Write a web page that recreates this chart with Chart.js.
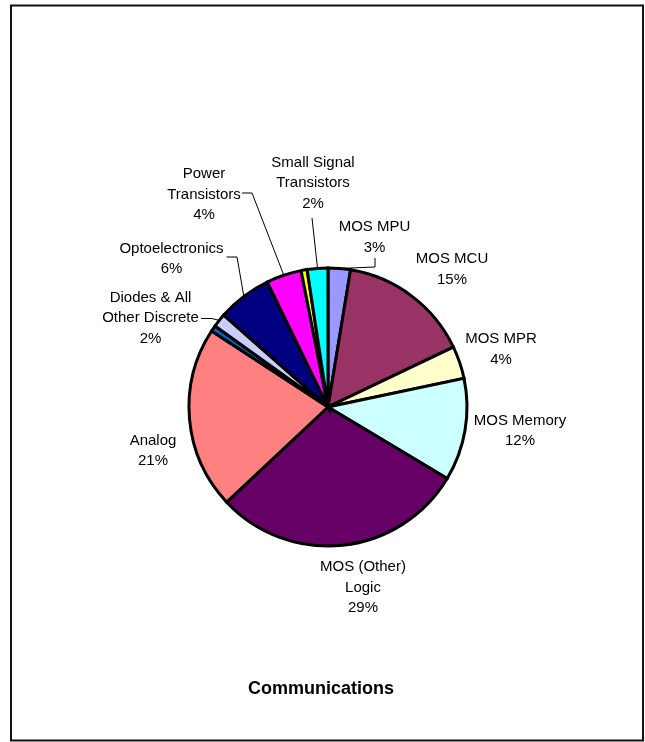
<!DOCTYPE html>
<html lang="en">
  <head>
    <meta charset="UTF-8" />
    <title>Communications</title>
    <script src="https://cdn.jsdelivr.net/npm/chart.js"></script>
    <style>
      html,
      body {
        margin: 0;
        padding: 0;
        background: #ffffff;
      }
      #pie-wrap {
        width: 645px;
        height: 742px;
      }
    </style>
  </head>
  <body>
    <div id="pie-wrap">
      <canvas id="pie" width="645" height="742"></canvas>
    </div>

    <script>
      // Semiconductor shares, clockwise from 12 o'clock
      const categories = [
        'MOS MPU',
        'MOS MCU',
        'MOS MPR',
        'MOS Memory',
        'MOS (Other) Logic',
        'Analog',
        '',
        'Diodes & All Other Discrete',
        'Optoelectronics',
        'Power Transistors',
        '',
        'Small Signal Transistors',
      ];
      const shares = [2.6, 15.3, 3.8, 11.9, 29.4, 21.2, 0.7, 1.6, 6.3, 4.1, 0.7, 2.4];
      const labelLines = [
        ['MOS MPU'],
        ['MOS MCU'],
        ['MOS MPR'],
        ['MOS Memory'],
        ['MOS (Other)', 'Logic'],
        ['Analog'],
        null,
        ['Diodes & All', 'Other Discrete'],
        ['Optoelectronics'],
        ['Power', 'Transistors'],
        null,
        ['Small Signal', 'Transistors'],
      ];
      const chartTitle = 'Communications';

      const sliceColors = [
        '#9999FF',
        '#993366',
        '#FFFFCC',
        '#CCFFFF',
        '#660066',
        '#FF8080',
        '#0066CC',
        '#CCCCFF',
        '#000080',
        '#FF00FF',
        '#FFFF00',
        '#00FFFF',
      ];

      // label block centre and leader points, as offsets from the pie centre
      const labelPlacement = [
        { dx: 46.5, dy: -169.5, leader: [[47, -149], [47, -140]] },
        { dx: 124, dy: -137.5 },
        { dx: 173, dy: -57.5 },
        { dx: 192, dy: 23.7 },
        { dx: 35, dy: 180.5 },
        { dx: -175, dy: 44 },
        null,
        { dx: -177.5, dy: -88.7, leader: [[-127, -88.5], [-116, -88.5]] },
        { dx: -156.5, dy: -148, leader: [[-101.5, -150], [-91, -150]] },
        { dx: -124, dy: -212.5, leader: [[-86, -214], [-76, -214]] },
        null,
        { dx: -15, dy: -223.7, leader: [[-16, -189]] },
      ];

      const FONT = '"Liberation Sans", Arial, sans-serif';

      const frameAndLabels = {
        id: 'frameAndLabels',
        beforeDraw(chart) {
          const ctx = chart.ctx;
          ctx.save();
          ctx.fillStyle = '#ffffff';
          ctx.fillRect(0, 0, chart.width, chart.height);
          ctx.strokeStyle = '#111111';
          ctx.lineWidth = 2;
          ctx.strokeRect(11, 5.5, 632, 735);
          ctx.restore();
        },
        afterDraw(chart) {
          const ctx = chart.ctx;
          const arcs = chart.getDatasetMeta(0).data;
          const total = shares.reduce((a, b) => a + b, 0);
          ctx.save();
          ctx.fillStyle = '#000000';
          ctx.strokeStyle = '#000000';
          ctx.lineWidth = 1;
          ctx.font = '15px ' + FONT;
          ctx.textAlign = 'center';
          ctx.textBaseline = 'middle';

          arcs.forEach((arc, i) => {
            const place = labelPlacement[i];
            if (!place || !labelLines[i]) return;
            const { x, y, startAngle, endAngle, outerRadius } = arc.getProps(
              ['x', 'y', 'startAngle', 'endAngle', 'outerRadius'],
              true
            );
            const lines = labelLines[i].concat(
              Math.round((shares[i] / total) * 100) + '%'
            );
            const lineH = 20.5;
            const top = y + place.dy - ((lines.length - 1) * lineH) / 2;
            lines.forEach((t, k) => {
              ctx.fillText(t, x + place.dx, top + k * lineH);
            });

            if (place.leader) {
              const mid = (startAngle + endAngle) / 2;
              ctx.beginPath();
              place.leader.forEach((p, k) => {
                const px = x + p[0];
                const py = y + p[1];
                if (k === 0) ctx.moveTo(px, py);
                else ctx.lineTo(px, py);
              });
              ctx.lineTo(
                x + Math.cos(mid) * outerRadius,
                y + Math.sin(mid) * outerRadius
              );
              ctx.stroke();
            }
          });

          ctx.font = 'bold 18px ' + FONT;
          ctx.fillText(chartTitle, 321, 689);
          ctx.restore();
        },
      };

      const ctx = document.getElementById('pie').getContext('2d');
      new Chart(ctx, {
        type: 'pie',
        data: {
          labels: categories,
          datasets: [
            {
              data: shares,
              backgroundColor: sliceColors,
              borderColor: '#000000',
              borderWidth: 3,
              hoverBorderWidth: 3,
              borderJoinStyle: 'miter',
            },
          ],
        },
        options: {
          responsive: false,
          animation: false,
          radius: 139,
          layout: {
            padding: { left: 11, right: 0, top: 72, bottom: 0 },
          },
          plugins: {
            legend: { display: false },
            tooltip: { enabled: false },
            title: { display: false },
          },
        },
        plugins: [frameAndLabels],
      });
    </script>
  </body>
</html>
